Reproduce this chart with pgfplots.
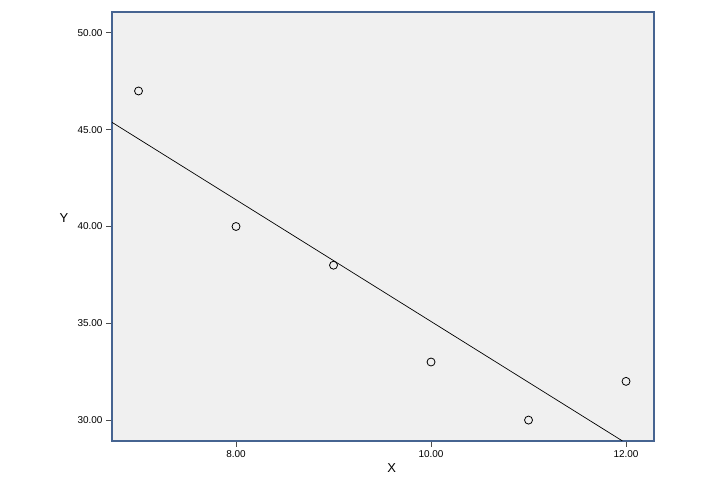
\documentclass[border=0pt]{standalone}
\usepackage{fontspec}
\setmainfont{Liberation Sans}
\usepackage{pgfplots}
\pgfplotsset{compat=1.18}
\definecolor{framec}{RGB}{70,100,145}
\definecolor{plotbg}{RGB}{240,240,240}
\begin{document}
\begin{tikzpicture}[x=1bp,y=1bp]
\path[use as bounding box] (0,0) rectangle (724,479);
\begin{axis}[
    at={(112bp,38bp)}, anchor=south west,
    scale only axis,
    width=542bp, height=429bp,
    xmin=6.728, xmax=12.287,
    ymin=28.92, ymax=51.08,
    xtick={8,10,12}, ytick={30,35,40,45,50},
    axis background/.style={fill=plotbg},
    axis line style={draw=framec, line width=1.3bp},
    tick align=outside, tick pos=left,
    major tick length=6bp,
    every tick/.style={black!70, line width=0.8bp},
    ticklabel style={font=\fontsize{10}{12}\selectfont},
    /pgf/number format/assume math mode=true,
    /pgf/number format/.cd, fixed, fixed zerofill, precision=2,
    /tikz/.cd,
    xlabel={X}, ylabel={Y},
    label style={font=\fontsize{13}{15}\selectfont},
    xlabel style={at={(axis description cs:0.516,0)}, anchor=base, yshift=-32bp},
    ylabel style={at={(axis description cs:0,0.52)}, rotate=-90, anchor=center, xshift=-48bp},
    clip=true,
]
\addplot[black, line width=0.7bp] coordinates {(6.728,45.38) (11.964,28.92)};
\addplot[only marks, mark=o, mark size=4bp, mark options={black, line width=0.8bp}]
    coordinates {(7,47) (8,40) (9,38) (10,33) (11,30) (12,32)};
\end{axis}
\end{tikzpicture}
\end{document}
